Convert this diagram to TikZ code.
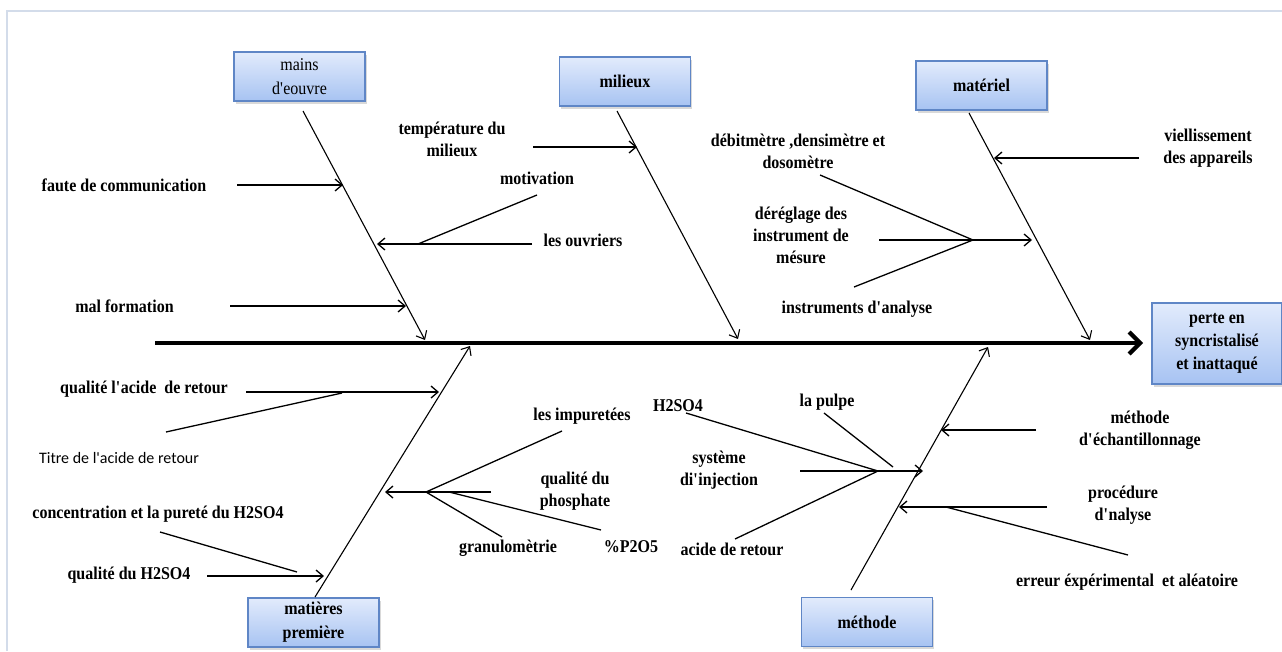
\documentclass[tikz,border=0pt]{standalone}
\usepackage{fontspec}
\setmainfont{Liberation Serif}[FakeStretch=0.89]
\newfontfamily\calib{Carlito}
\usetikzlibrary{arrows.meta,shadows}

\newcommand\aq{\textquotesingle}

\definecolor{frameline}{HTML}{D3DCEA}
\definecolor{boxedge}{HTML}{5F86C6}
\definecolor{boxtop}{HTML}{E2EBFC}
\definecolor{boxbot}{HTML}{A7C3F2}

\begin{document}
\begin{tikzpicture}[x=1pt,y=-1pt,
  lab/.style={font=\fontsize{18}{22}\selectfont\bfseries, align=center, inner sep=0pt},
  cat/.style={draw=boxedge, line width=1.1pt, top color=boxtop, bottom color=boxbot,
    minimum width=131pt, minimum height=49pt, inner sep=2pt, align=center,
    font=\fontsize{18}{24}\selectfont\bfseries,
    drop shadow={opacity=0.3, shadow xshift=1.5pt, shadow yshift=-2.5pt}},
  bone/.style={line width=1.1pt, -{Straight Barb[length=7pt,width=12pt]}},
  sub/.style={line width=1.3pt, -{Straight Barb[length=7pt,width=12pt]}},
  twig/.style={line width=1.3pt},
  spine/.style={line width=4.2pt, -{Straight Barb[length=11pt,width=22pt]}}
]
\useasboundingbox (0,0) rectangle (1282,651);

% page frame
\draw[frameline, line width=1.5pt] (7,651) -- (7,11) -- (1282,11);

% category boxes and effect
\node[cat, font=\fontsize{18}{24}\selectfont] (mo) at (299.5,76.5) {mains\\d\aq eouvre};
\node[cat] (mil) at (625,81.5) {milieux};
\node[cat] (mat) at (981.5,85.5) {matériel};
\node[cat] (mp) at (313.5,622.5) {matières\\première};
\node[cat] (me) at (867,622) {méthode};
\node[cat, minimum width=130pt, minimum height=81pt, font=\fontsize{18}{23}\selectfont\bfseries]
  (eff) at (1217,343.5) {perte en\\syncristalisé\\et inattaqué};

% spine
\coordinate (s0) at (155,343);
\coordinate (s1) at (1143,343);
\draw[spine] (s0) -- (s1);

% main bones
\coordinate (moA) at (303,111);  \coordinate (moB) at (425,340);
\coordinate (milA) at (617,111); \coordinate (milB) at (738,339);
\coordinate (matA) at (969,113); \coordinate (matB) at (1090,340);
\coordinate (mpA) at (315,597);  \coordinate (mpB) at (470,346);
\coordinate (meA) at (851,590);  \coordinate (meB) at (988,347);
\draw[bone] (moA) -- (moB);
\draw[bone] (milA) -- (milB);
\draw[bone] (matA) -- (matB);
\draw[bone] (mpA) -- (mpB);
\draw[bone] (meA) -- (meB);

% ---- mains d'oeuvre
\node[lab] (t1) at (124,185) {faute de communication};
\coordinate (a1) at (237,185); \coordinate (b1) at (343,185);
\draw[sub] (a1) -- (b1);
\node[lab] (t2) at (124.5,306) {mal formation};
\coordinate (a2) at (230,306); \coordinate (b2) at (406,306);
\draw[sub] (a2) -- (b2);
\node[lab] (t3) at (583,240) {les ouvriers};
\coordinate (a3) at (532,244); \coordinate (b3) at (377,244);
\draw[sub] (a3) -- (b3);
\node[lab] (t4) at (537,178) {motivation};
\coordinate (a4) at (537,195); \coordinate (b4) at (418,244);
\draw[twig] (a4) -- (b4);

% ---- milieux
\node[lab] (t5) at (452,139) {température du\\milieux};
\coordinate (a5) at (533,147); \coordinate (b5) at (637,147);
\draw[sub] (a5) -- (b5);

% ---- materiel
\node[lab] (t6) at (1208,148) {viellissement\\des appareils};
\coordinate (a6) at (1139,158); \coordinate (b6) at (994,158);
\draw[sub] (a6) -- (b6);
\node[lab] (t7) at (798,151) {débitmètre ,densimètre et\\dosomètre};
\coordinate (a7) at (820,175); \coordinate (j7) at (973,240);
\draw[twig] (a7) -- (j7);
\node[lab] (t8) at (801,235) {déréglage des\\instrument de\\mésure};
\coordinate (a8) at (879,240); \coordinate (b8) at (1032,240);
\draw[sub] (a8) -- (b8);
\node[lab] (t9) at (857,309) {instruments d\aq analyse};
\coordinate (a9) at (854,287);
\draw[twig] (a9) -- (j7);

% ---- matieres premiere
\node[lab] (t10) at (144,389) {qualité l\aq acide\ \ de retour};
\coordinate (a10) at (246,392); \coordinate (b10) at (439,392);
\draw[sub] (a10) -- (b10);
\node[font=\fontsize{16}{22}\selectfont\calib, inner sep=0pt] (t11) at (119,458) {Titre de l\aq acide de retour};
\coordinate (a11) at (166,432); \coordinate (b11) at (342,393);
\draw[twig] (a11) -- (b11);
\node[lab] (t12) at (158,514) {concentration et la pureté du H2SO4};
\coordinate (a12) at (160,532); \coordinate (b12) at (297,572);
\draw[twig] (a12) -- (b12);
\node[lab] (t13) at (129,575) {qualité du H2SO4};
\coordinate (a13) at (207,576); \coordinate (b13) at (324,576);
\draw[sub] (a13) -- (b13);
\node[lab] (t14) at (575,491) {qualité du\\phosphate};
\coordinate (a14) at (491,492); \coordinate (b14) at (385,492);
\coordinate (j14) at (426,492); \coordinate (k14) at (449,492);
\draw[sub] (a14) -- (b14);
\node[lab] (t15) at (582,416) {les impuretées};
\coordinate (a15) at (562,431);
\draw[twig] (a15) -- (j14);
\node[lab] (t16) at (508,548) {granulomètrie};
\coordinate (a16) at (502,537);
\draw[twig] (j14) -- (a16);
\node[lab] (t17) at (631,547) {\%P2O5};
\coordinate (a17) at (601,530);
\draw[twig] (k14) -- (a17);

% ---- methode
\node[lab] (t18) at (719,470) {système\\di\aq injection};
\coordinate (a18) at (800,471); \coordinate (b18) at (923,471);
\coordinate (j18) at (878,471);
\draw[sub] (a18) -- (b18);
\node[lab] (t19) at (678,406) {H2SO4};
\coordinate (a19) at (686,413);
\draw[twig] (a19) -- (j18);
\node[lab] (t20) at (827,402) {la pulpe};
\coordinate (a20) at (824,413); \coordinate (b20) at (893,467);
\draw[twig] (a20) -- (b20);
\node[lab] (t21) at (732,549) {acide de retour};
\coordinate (a21) at (735,539);
\draw[twig] (a21) -- (j18);
\node[lab] (t22) at (1140,430) {méthode\\d\aq échantillonnage};
\coordinate (a22) at (1036,430); \coordinate (b22) at (941,430);
\draw[sub] (a22) -- (b22);
\node[lab] (t23) at (1123,505) {procédure\\d\aq nalyse};
\coordinate (a23) at (1047,507); \coordinate (b23) at (899,507);
\draw[sub] (a23) -- (b23);
\node[lab] (t24) at (1127,582) {erreur éxpérimental\ \ et aléatoire};
\coordinate (a24) at (1128,555); \coordinate (b24) at (946,507);
\draw[twig] (a24) -- (b24);
\end{tikzpicture}
\end{document}
